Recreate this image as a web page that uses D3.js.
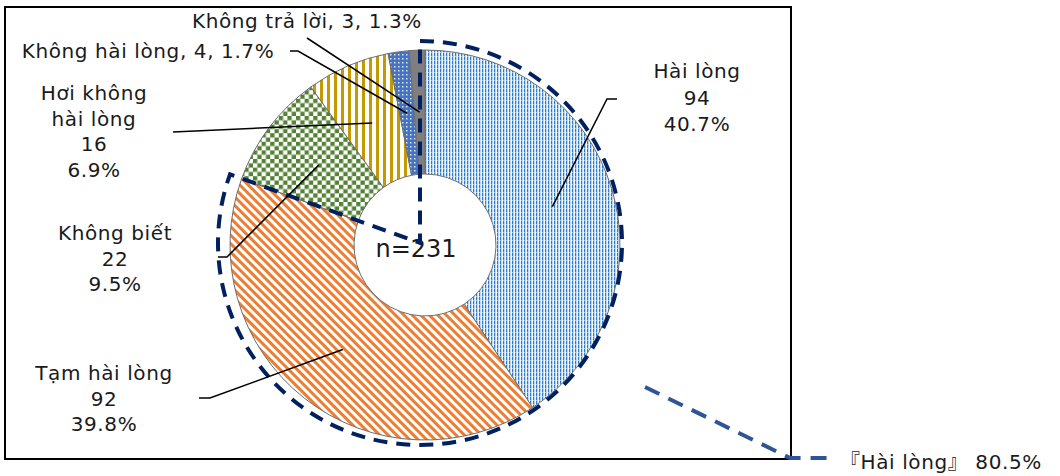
<!DOCTYPE html>
<html>
<head>
<meta charset="utf-8">
<script src="https://cdn.jsdelivr.net/npm/d3@7"></script>
<style>
  body { margin: 0; background: #fff; }
  text { font-family: "DejaVu Sans", "Noto Sans CJK JP", sans-serif; fill: #1a1a1a; }
</style>
</head>
<body>
<svg id="chart" width="1060" height="476"></svg>
<script>
// data
var categories = ["Hài lòng", "Tạm hài lòng", "Không biết", "Hơi không hài lòng", "Không hài lòng", "Không trả lời"]
var counts = [94, 92, 22, 16, 4, 3]
var groupName = "Hài lòng"   // the first two answers together
var groupSize = 2

var total = d3.sum(counts)
var pct = d3.format(".1%")

var svg = d3.select("#chart")
var W = 1060, H = 476
svg.append("rect").attr("width", W).attr("height", H).attr("fill", "#fff")

// patterns
var defs = svg.append("defs")

var p0 = defs.append("pattern").attr("id", "pat0").attr("patternUnits", "userSpaceOnUse")
  .attr("width", 3).attr("height", 4)
p0.append("rect").attr("width", 3).attr("height", 4).attr("fill", "#fff")
p0.append("rect").attr("x", 0).attr("y", 0).attr("width", 1).attr("height", 3).attr("fill", "#2a7cca")
p0.append("rect").attr("x", 0).attr("y", 3).attr("width", 1).attr("height", 1).attr("fill", "#9cc3e6")
p0.append("rect").attr("x", 1).attr("y", 0).attr("width", 1).attr("height", 4).attr("fill", "#bcd8f2")
p0.append("rect").attr("x", 2).attr("y", 1).attr("width", 1).attr("height", 2).attr("fill", "#e6f0fa")

var p1 = defs.append("pattern").attr("id", "pat1").attr("patternUnits", "userSpaceOnUse")
  .attr("width", 6).attr("height", 6).attr("patternTransform", "rotate(-45)")
p1.append("rect").attr("width", 6).attr("height", 6).attr("fill", "#fff")
p1.append("rect").attr("width", 3).attr("height", 6).attr("fill", "#ed7d31")

var p2 = defs.append("pattern").attr("id", "pat2").attr("patternUnits", "userSpaceOnUse")
  .attr("width", 8.6).attr("height", 8.6)
p2.append("rect").attr("width", 8.6).attr("height", 8.6).attr("fill", "#fff")
p2.append("rect").attr("width", 4.3).attr("height", 4.3).attr("fill", "#548235")
p2.append("rect").attr("x", 4.3).attr("y", 4.3).attr("width", 4.3).attr("height", 4.3).attr("fill", "#548235")

var p3 = defs.append("pattern").attr("id", "pat3").attr("patternUnits", "userSpaceOnUse")
  .attr("width", 7).attr("height", 7)
p3.append("rect").attr("width", 7).attr("height", 7).attr("fill", "#fff")
p3.append("rect").attr("width", 3).attr("height", 7).attr("fill", "#c49a00")

var p4 = defs.append("pattern").attr("id", "pat4").attr("patternUnits", "userSpaceOnUse")
  .attr("width", 4).attr("height", 4)
p4.append("rect").attr("width", 4).attr("height", 4).attr("fill", "#4472c4")
p4.append("rect").attr("x", 1).attr("y", 1).attr("width", 1.5).attr("height", 1.5).attr("fill", "#dce6f5")

var fills = ["url(#pat0)", "url(#pat1)", "url(#pat2)", "url(#pat3)", "url(#pat4)", "#7f7f7f"]

// plot frame
svg.append("rect").attr("x", 5).attr("y", 7).attr("width", 786).attr("height", 452)
  .attr("fill", "none").attr("stroke", "#000").attr("stroke-width", 2)

var cx = 425, cy = 245, rIn = 71, rOut = 195

var pie = d3.pie().sort(null).value(function(d){ return d })
var arcs = pie(counts)
var arc = d3.arc().innerRadius(rIn).outerRadius(rOut)

var g = svg.append("g").attr("transform", "translate(" + cx + "," + cy + ")")
g.selectAll("path.slice")
  .data(arcs)
  .enter()
  .append("path")
    .attr("class", "slice")
    .attr("d", arc)
    .attr("fill", function(d, i){ return fills[i] })
    .attr("stroke", "#6e6e6e")
    .attr("stroke-width", 1)

// center label
g.append("text").attr("x", -9).attr("y", 12).attr("text-anchor", "middle")
  .style("font-size", "24px").text("n=" + total)

// dashed sector around the satisfied group
var groupShare = d3.sum(counts.slice(0, groupSize)) / total
var sector = d3.arc().innerRadius(0).outerRadius(202)
  .startAngle(0).endAngle(groupShare * 2 * Math.PI)
svg.append("path")
  .attr("transform", "translate(420,243)")
  .attr("d", sector())
  .attr("fill", "none")
  .attr("stroke", "#002060")
  .attr("stroke-width", 4)
  .attr("stroke-dasharray", "14 9")

// labels with leader lines, the inner end is the slice centroid
var labelLayout = [
  { x: 697, y: 78, dy: 26.5, lines: [categories[0], counts[0], pct(counts[0] / total)], leader: [[617, 99], [607, 99]] },
  { x: 104, y: 380, dy: 25.5, lines: [categories[1], counts[1], pct(counts[1] / total)], leader: [[199, 398], [210, 398]] },
  { x: 115, y: 240, dy: 25.5, lines: [categories[2], counts[2], pct(counts[2] / total)], leader: [[218, 257], [227, 257]] },
  { x: 94, y: 100, dy: 25.7, lines: ["Hơi không", "hài lòng", counts[3], pct(counts[3] / total)], leader: [[173, 132]] },
  { x: 148, y: 58, dy: 0, lines: [categories[4] + ", " + counts[4] + ", " + pct(counts[4] / total)], leader: [[290, 51], [298, 51]] },
  { x: 307, y: 28, dy: 0, lines: [categories[5] + ", " + counts[5] + ", " + pct(counts[5] / total)], leader: [[307, 38]] }
]

var line = d3.line()
labelLayout.forEach(function(L, i){
  var c = arc.centroid(arcs[i])
  var pts = L.leader.concat([[cx + c[0], cy + c[1]]])
  svg.append("path").attr("d", line(pts))
    .attr("fill", "none").attr("stroke", "#000").attr("stroke-width", 1.5)

  var t = svg.append("text").attr("text-anchor", "middle")
    .style("font-size", "20px").style("letter-spacing", "0.6px")
  L.lines.forEach(function(s, k){
    t.append("tspan").attr("x", L.x).attr("y", L.y + k * L.dy).text(s)
  })
})

// callout for the group total
svg.append("path")
  .attr("d", line([[645, 387], [790, 458], [836, 458]]))
  .attr("fill", "none")
  .attr("stroke", "#2f5597")
  .attr("stroke-width", 4)
  .attr("stroke-dasharray", "16 10")
svg.append("text").attr("x", 840).attr("y", 469)
  .style("font-size", "20px").style("letter-spacing", "0.6px")
  .text("『" + groupName + "』 " + pct(groupShare))
</script>
</body>
</html>
